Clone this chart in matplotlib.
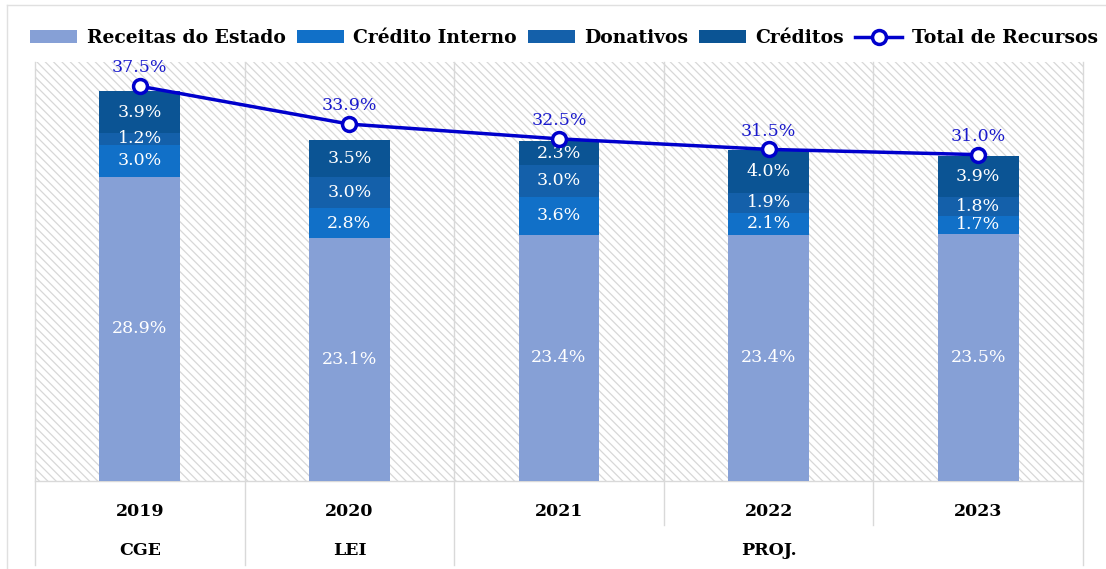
import matplotlib
matplotlib.use("Agg")
import matplotlib.pyplot as plt
from matplotlib.patches import Rectangle
from matplotlib.lines import Line2D
import numpy as np

years = ["2019", "2020", "2021", "2022", "2023"]
groups = ["CGE", "LEI", "PROJ."]
receitas = [28.9, 23.1, 23.4, 23.4, 23.5]
credito_interno = [3.0, 2.8, 3.6, 2.1, 1.7]
donativos = [1.2, 3.0, 3.0, 1.9, 1.8]
creditos = [3.9, 3.5, 2.3, 4.0, 3.9]
total = [37.5, 33.9, 32.5, 31.5, 31.0]

series = [
    ("Receitas do Estado", receitas, "#86a0d6"),
    ("Crédito Interno", credito_interno, "#1170c8"),
    ("Donativos", donativos, "#1460aa"),
    ("Créditos", creditos, "#0b5494"),
]

plt.rcParams["font.family"] = "DejaVu Serif"
plt.rcParams["hatch.linewidth"] = 0.9

fig = plt.figure(figsize=(11.06, 5.69), dpi=100)
ax = fig.add_axes([35 / 1106, 1 - 481 / 569, (1083 - 35) / 1106, (481 - 62) / 569])

x = np.arange(len(years))
ax.set_xlim(-0.5, len(years) - 0.5)
ax.set_ylim(0, 39.8)

# hatched background
ax.add_patch(Rectangle((0, 0), 1, 1, transform=ax.transAxes, facecolor="white",
                       edgecolor="#d8d8d8", hatch="\\\\\\\\", lw=0, zorder=0))

bottom = np.zeros(len(years))
for name, vals, col in series:
    vals = np.array(vals)
    ax.bar(x, vals, 0.385, bottom=bottom, color=col, label=name, zorder=2)
    for xi, b, v in zip(x, bottom, vals):
        ax.text(xi, b + v / 2, f"{v:.1f}%", ha="center", va="center",
                color="white", fontsize=12.5, zorder=3)
    bottom += vals

ax.plot(x, total, color="#0000cc", lw=2.5, marker="o", ms=10, mfc="white",
        mec="#0000cc", mew=2.5, zorder=4, label="Total de Recursos")
for xi, t in zip(x, total):
    ax.annotate(f"{t:.1f}%", (xi, t), xytext=(0, 7), textcoords="offset points",
                ha="center", va="bottom", color="#1a1acc", fontsize=12.5)

for s in ax.spines.values():
    s.set_visible(False)
ax.set_xticks([])
ax.set_yticks([])

# category separators and table below axis
tr = ax.get_xaxis_transform()
grid = "#d9d9d9"
ax.plot([-0.5, 4.5], [0, 0], color=grid, lw=1, transform=tr, clip_on=False, zorder=1)
for b in np.arange(-0.5, len(years)):
    low = -0.105 if b in (2.5, 3.5) else -0.2
    ax.plot([b, b], [1, low], color=grid, lw=1, transform=tr, clip_on=False, zorder=1)
for xi, y in zip(x, years):
    ax.text(xi, -0.0716, y, transform=tr, ha="center", va="center",
            fontsize=12.5, fontweight="bold")
for xi, g in zip([0, 1, 3], groups):
    ax.text(xi, -0.167, g, transform=tr, ha="center", va="center",
            fontsize=12.5, fontweight="bold")

# outer frame fragments
fig.add_artist(Line2D([7 / 1106, 1], [1 - 5 / 569, 1 - 5 / 569], color="#e0e0e0", lw=1))
fig.add_artist(Line2D([7 / 1106, 7 / 1106], [0, 1 - 5 / 569], color="#e0e0e0", lw=1))

handles, labels = ax.get_legend_handles_labels()
handles = handles[1:] + handles[:1]
labels = labels[1:] + labels[:1]
leg = fig.legend(handles, labels, loc="center", bbox_to_anchor=(564 / 1106, 1 - 38 / 569),
                 ncol=5, frameon=False, handlelength=2.5, handleheight=0.65,
                 handletextpad=0.5, columnspacing=0.6,
                 prop={"weight": "bold", "size": 13.5})

fig.savefig("out.png", dpi=100)
